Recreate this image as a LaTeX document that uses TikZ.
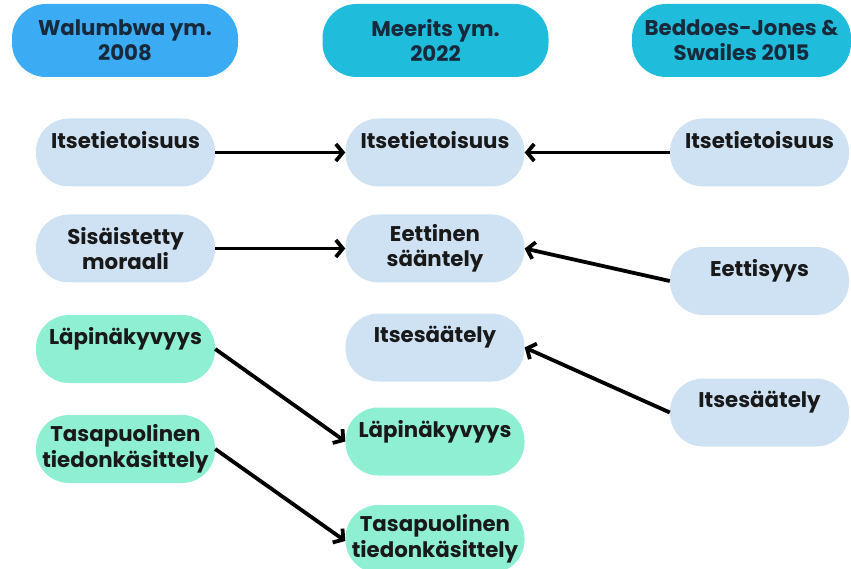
\documentclass[tikz,border=0pt]{standalone}
\usepackage{fontspec}
\setmainfont{Poppins}
\usetikzlibrary{arrows.meta}
\definecolor{headblue}{HTML}{3BABF4}
\definecolor{headcyan}{HTML}{20BCDB}
\definecolor{paleblue}{HTML}{CFE2F3}
\definecolor{mint}{HTML}{8FEFD2}
\definecolor{navytext}{HTML}{17293B}
\begin{document}
\begin{tikzpicture}[x=1pt,y=-1pt,
  header/.style={rectangle, rounded corners=34pt, minimum width=226pt, minimum height=73pt,
    inner sep=0pt, align=center, text=navytext,
    font=\fontsize{21.3}{25}\selectfont\bfseries},
  item/.style={rectangle, rounded corners=33pt, minimum width=179pt, minimum height=68pt,
    inner sep=0pt, align=center, text=black!90,
    font=\fontsize{21.3}{25.5}\selectfont\bfseries},
  blueitem/.style={item, fill=paleblue},
  greenitem/.style={item, fill=mint},
  link/.style={line width=3.8pt, -{Straight Barb[length=7pt,width=17pt,line width=3.8pt]}}]

\useasboundingbox (0,0) rectangle (851,569);

% column headers
\node[header, fill=headblue] (hw) at (125,40.5) {Walumbwa ym.\\2008};
\node[header, fill=headcyan] (hm) at (435.5,40.5) {Meerits ym.\\2022};
\node[header, fill=headcyan, minimum width=219pt] (hb) at (741.5,40.5) {Beddoes-Jones \&\\Swailes 2015};

% Walumbwa et al. 2008
\node[blueitem] (w1) at (125.5,152.5) {Itsetietoisuus\\\mbox{}};
\node[blueitem] (w2) at (125.5,248.5) {Sisäistetty\\moraali};
\node[greenitem] (w3) at (125.5,349) {Läpinäkyvyys\\\mbox{}};
\node[greenitem] (w4) at (125.5,449) {Tasapuolinen\\tiedonkäsittely};

% Meerits et al. 2022
\node[blueitem] (m1) at (435,152.5) {Itsetietoisuus\\\mbox{}};
\node[blueitem] (m2) at (435,248.5) {Eettinen\\sääntely};
\node[blueitem] (m3) at (435,347.5) {Itsesäätely\\\mbox{}};
\node[greenitem] (m4) at (435,441.5) {Läpinäkyvyys\\\mbox{}};
\node[greenitem] (m5) at (435,539) {Tasapuolinen\\tiedonkäsittely};

% Beddoes-Jones & Swailes 2015
\node[blueitem] (b1) at (759.5,152.5) {Itsetietoisuus\\\mbox{}};
\node[blueitem] (b2) at (759.5,281) {Eettisyys\\\mbox{}};
\node[blueitem] (b3) at (759.5,412.5) {Itsesäätely\\\mbox{}};

% connections
\draw[link] (w1.east) -- (m1.west);
\draw[link] (b1.west) -- (m1.east);
\draw[link] (w2.east) -- (m2.west);
\draw[link] (b2.west) -- (m2.east);
\draw[link] (b3.west) -- (m3.east);
\draw[link] (w3.east) -- (m4.west);
\draw[link] (w4.east) -- ([yshift=-2pt]m5.west);
\end{tikzpicture}
\end{document}
